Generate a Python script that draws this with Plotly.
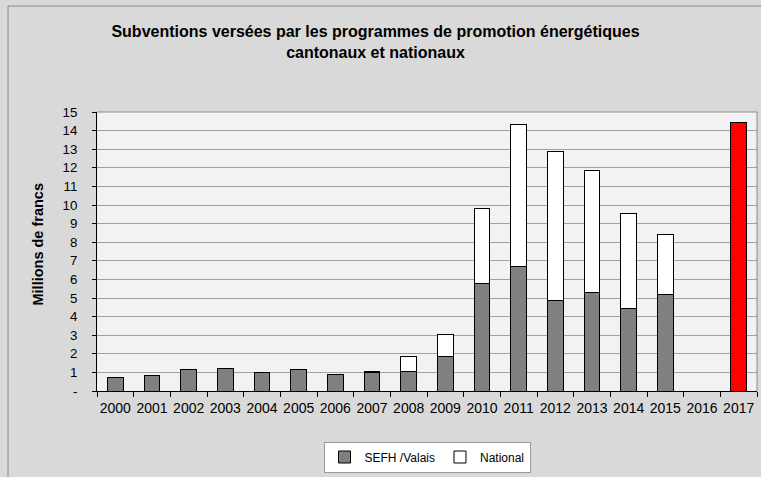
import plotly.graph_objects as go

years = [str(y) for y in range(2000, 2018)]
sefh = [0.75, 0.84, 1.15, 1.22, 0.99, 1.15, 0.90, 0.99, 1.07, 1.88, 5.77, 6.67, 4.84, 5.29, 4.43, 5.18, None, 14.41]
national = [None, None, None, None, None, None, None, 0.07, 0.79, 1.17, 4.05, 7.65, 8.01, 6.58, 5.14, 3.26, None, None]
y_ticks = list(range(0, 16))
y_ticktext = ["-"] + [str(v) for v in range(1, 16)]

title_text = "Subventions versées par les programmes de promotion énergétiques<br>cantonaux et nationaux"
y_title = "Millions de francs"

sefh_colors = ["#808080"] * len(years)
sefh_colors[-1] = "#ff0000"

FONT = "Liberation Sans, Arial, sans-serif"

fig = go.Figure()
fig.add_trace(go.Bar(
    x=years, y=sefh, name="SEFH /Valais",
    marker=dict(color=sefh_colors, line=dict(color="#000000", width=1)),
))
fig.add_trace(go.Bar(
    x=years, y=national, name="National",
    marker=dict(color="#ffffff", line=dict(color="#000000", width=1)),
))

W, H = 761, 477
L, R, T, B = 97, 4, 112, 86
pw, ph = W - L - R, H - T - B

def px_x(x):
    return (x - L) / pw

def px_y(y):
    return (H - B - y) / ph

fig.update_layout(
    width=W, height=H,
    barmode="stack", bargap=0.58,
    paper_bgcolor="#d9d9d9", plot_bgcolor="#f2f2f2",
    margin=dict(l=L, r=R, t=T, b=B, pad=0, autoexpand=False),
    font=dict(family=FONT, size=13.3, color="#000000"),
    title=dict(text="<b>" + title_text + "</b>", x=375.5 / W, xref="container", xanchor="center",
               y=1 - 37 / H, yref="container", yanchor="top",
               font=dict(family=FONT, size=16, color="#000000")),
    showlegend=True,
    legend=dict(orientation="h", x=0.5, xanchor="center", y=px_y(457), yanchor="middle",
                bgcolor="#ffffff", bordercolor="#999999", borderwidth=1,
                font=dict(family=FONT, size=12, color="#000000"),
                itemwidth=30, traceorder="normal"),
    xaxis=dict(type="category", showgrid=False, showline=True, linecolor="#000000", linewidth=1,
               ticks="outside", tickson="boundaries", ticklen=5, tickcolor="#000000",
               tickangle=0, automargin=False, ticklabelstandoff=4,
               tickfont=dict(family=FONT, size=14, color="#000000"), zeroline=False),
    yaxis=dict(range=[0, 15], tickvals=y_ticks, ticktext=y_ticktext, showgrid=True,
               gridcolor="#a0a0a0", gridwidth=1, showline=True, linecolor="#000000", linewidth=1,
               ticks="outside", ticklen=4, tickcolor="#000000", ticklabelstandoff=12,
               automargin=False,
               tickfont=dict(family=FONT, size=13.3, color="#000000"), zeroline=False),
    annotations=[dict(text="<b>" + y_title + "</b>", textangle=-90, xref="paper", yref="paper",
                      x=px_x(37), y=px_y(244.5), xanchor="center", yanchor="middle", showarrow=False,
                      font=dict(family=FONT, size=14.5, color="#000000"))],
    shapes=[
        dict(type="line", xref="paper", yref="paper", x0=1, x1=1, y0=0, y1=1,
             line=dict(color="#8c8c8c", width=1)),
        dict(type="line", xref="paper", yref="paper", x0=0, x1=1, y0=1, y1=1,
             line=dict(color="#8c8c8c", width=1)),
        dict(type="line", xref="paper", yref="paper", x0=px_x(8), x1=px_x(8), y0=px_y(6), y1=px_y(477),
             line=dict(color="#8c8c8c", width=1)),
        dict(type="line", xref="paper", yref="paper", x0=px_x(8), x1=px_x(761), y0=px_y(6), y1=px_y(6),
             line=dict(color="#8c8c8c", width=1)),
    ],
)

fig.write_html("out.html", config={"displayModeBar": False},
               post_script="document.body.style.margin='0';document.body.style.overflow='hidden';")
